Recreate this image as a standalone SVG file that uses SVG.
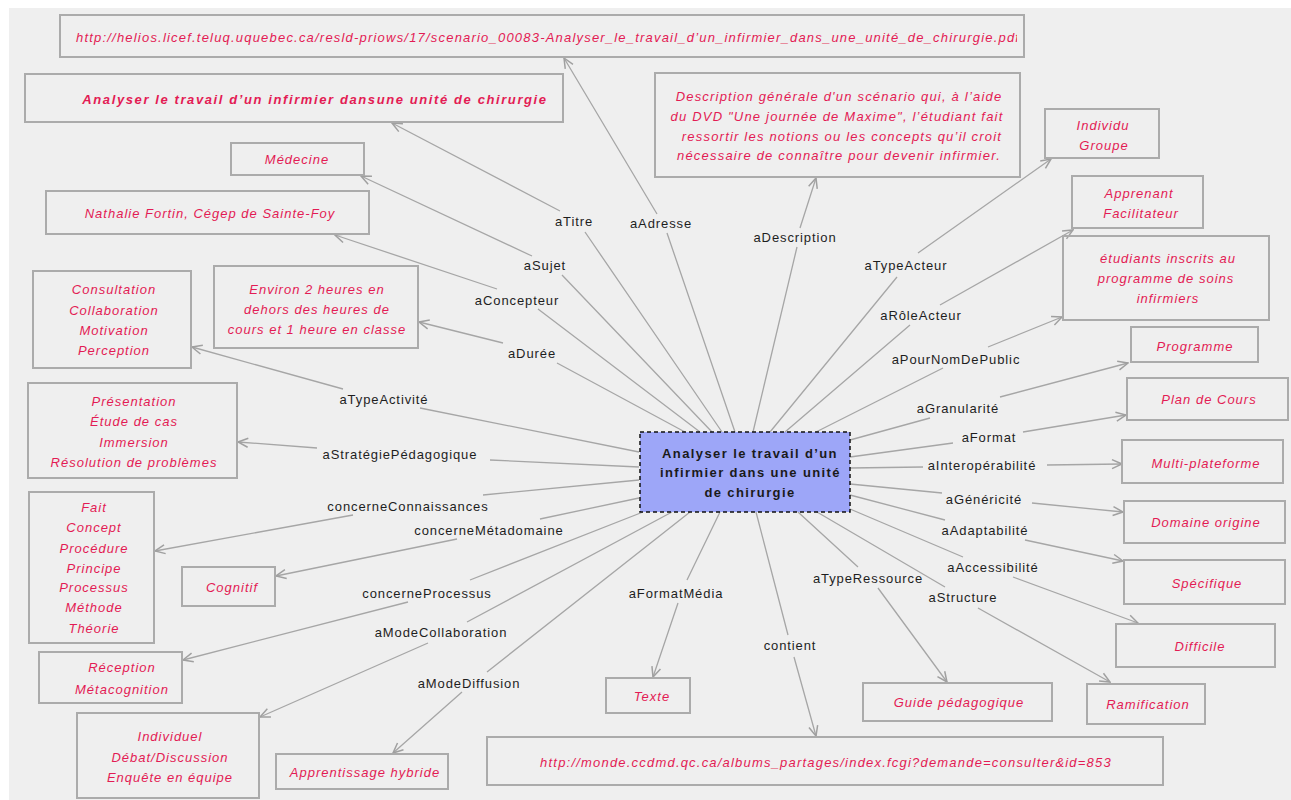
<svg xmlns="http://www.w3.org/2000/svg" width="1291" height="800" viewBox="0 0 1291 800">
<style>
.box{fill:none;stroke:#ababab;stroke-width:2}
.val{font-family:"Liberation Sans",Arial,sans-serif;font-style:italic;font-size:13px;fill:#e31b54;letter-spacing:1px;text-anchor:middle}
.lbl{font-family:"Liberation Sans",Arial,sans-serif;font-size:13px;fill:#1e1e1e;letter-spacing:0.9px;text-anchor:middle}
.edge{fill:none;stroke:#a6a6a6;stroke-width:1.3;marker-end:url(#arr)}
.ctr{font-family:"Liberation Sans",Arial,sans-serif;font-weight:bold;font-size:13px;fill:#1a1a1a;letter-spacing:1.4px;text-anchor:middle}
</style>
<defs>
<marker id="arr" markerWidth="12" markerHeight="12" viewBox="0 0 12 12" refX="11" refY="6" orient="auto" markerUnits="userSpaceOnUse">
<path d="M1,1.5 L11,6 L1,10.5" fill="none" stroke="#a0a0a0" stroke-width="1.5"/>
</marker>
<clipPath id="cTop"><rect x="61" y="16" width="956" height="40"/></clipPath>
<clipPath id="cEnv"><rect x="215" y="267" width="194" height="80"/></clipPath>
<clipPath id="cCtr"><rect x="641" y="433" width="202" height="78"/></clipPath>
</defs>
<rect x="0" y="0" width="1291" height="800" fill="#ffffff"/>
<rect x="9" y="8" width="1282" height="792" fill="#efefef"/>

<g id="connectors">
<path class="edge" d="M735,432 L667,233 M657,214 L564,58"/>
<path class="edge" d="M722,432 L585,232 M560,211 L392,123"/>
<path class="edge" d="M712,432 L562,275 M532,256 L361,176"/>
<path class="edge" d="M700,432 L538,309 M497,289 L335,235"/>
<path class="edge" d="M685,432 L557,363 M503,343 L419,322"/>
<path class="edge" d="M639,452 L420,408 M343,389 L192,347"/>
<path class="edge" d="M639,467 L490,460 M317,448 L238,442"/>
<path class="edge" d="M639,480 L483,495 M353,515 L155,551"/>
<path class="edge" d="M639,498 L540,519 M457,539 L276,576"/>
<path class="edge" d="M643,512 L470,580 M408,602 L183,660"/>
<path class="edge" d="M672,512 L467,622 M428,643 L260,717"/>
<path class="edge" d="M690,512 L487,672 M462,692 L393,753"/>
<path class="edge" d="M720,512 L687,580 M678,603 L653,677"/>
<path class="edge" d="M756,512 L788,635 M794,657 L816,736"/>
<path class="edge" d="M798,512 L858,567 M878,588 L947,682"/>
<path class="edge" d="M817,512 L945,587 M978,608 L1110,682"/>
<path class="edge" d="M850,509 L963,557 M1013,577 L1138,623"/>
<path class="edge" d="M850,495 L945,520 M1025,540 L1123,561"/>
<path class="edge" d="M850,484 L942,493 M1032,503 L1123,512"/>
<path class="edge" d="M850,468 L923,467 M1047,465 L1122,464"/>
<path class="edge" d="M850,457 L953,443 M1023,432 L1126,415"/>
<path class="edge" d="M850,440 L930,418 M1000,397 L1128,363"/>
<path class="edge" d="M816,432 L943,368 M988,347 L1062,317"/>
<path class="edge" d="M785,432 L910,325 M940,305 L1073,230"/>
<path class="edge" d="M770,432 L897,277 M918,253 L1051,159"/>
<path class="edge" d="M753,432 L797,247 M800,228 L816,178"/>
<text class="lbl" x="661" y="228">aAdresse</text>
<text class="lbl" x="574" y="226">aTitre</text>
<text class="lbl" x="545" y="270">aSujet</text>
<text class="lbl" x="517" y="305">aConcepteur</text>
<text class="lbl" x="532" y="358">aDurée</text>
<text class="lbl" x="384" y="404">aTypeActivité</text>
<text class="lbl" x="400" y="459">aStratégiePédagogique</text>
<text class="lbl" x="408" y="511">concerneConnaissances</text>
<text class="lbl" x="489" y="535">concerneMétadomaine</text>
<text class="lbl" x="427" y="598">concerneProcessus</text>
<text class="lbl" x="441" y="637">aModeCollaboration</text>
<text class="lbl" x="469" y="688">aModeDiffusion</text>
<text class="lbl" x="676" y="598">aFormatMédia</text>
<text class="lbl" x="790" y="650">contient</text>
<text class="lbl" x="868" y="583">aTypeRessource</text>
<text class="lbl" x="963" y="602">aStructure</text>
<text class="lbl" x="993" y="572">aAccessibilité</text>
<text class="lbl" x="985" y="535">aAdaptabilité</text>
<text class="lbl" x="984" y="504">aGénéricité</text>
<text class="lbl" x="982" y="470">aInteropérabilité</text>
<text class="lbl" x="989" y="442">aFormat</text>
<text class="lbl" x="958" y="413">aGranularité</text>
<text class="lbl" x="956" y="364">aPourNomDePublic</text>
<text class="lbl" x="921" y="320">aRôleActeur</text>
<text class="lbl" x="906" y="270">aTypeActeur</text>
<text class="lbl" x="795" y="242">aDescription</text>
</g>

<g id="center">
<rect x="640" y="432" width="210" height="80" fill="#9da6f8" stroke="#111" stroke-width="1.5" stroke-dasharray="4,3"/>
<g clip-path="url(#cCtr)">
<text class="ctr" x="750" y="458">Analyser le travail d’un</text>
<text class="ctr" x="660" y="477" style="text-anchor:start">infirmier dans une unité</text>
<text class="ctr" x="750" y="497">de chirurgie</text>
</g>
</g>

<g id="n-url-pdf">
<rect class="box" x="60" y="15" width="964" height="42"/>
<text class="val" x="76" y="42" clip-path="url(#cTop)" style="text-anchor:start;letter-spacing:1.2px">http://helios.licef.teluq.uquebec.ca/resld-priows/17/scenario_00083-Analyser_le_travail_d’un_infirmier_dans_une_unité_de_chirurgie.pdf</text>
</g>
<g id="n-titre">
<rect class="box" x="25" y="74" width="538" height="48"/>
<text class="val" x="315" y="104" style="font-weight:bold;letter-spacing:1.6px">Analyser le travail d’un infirmier dansune unité de chirurgie</text>
</g>
<g id="n-sujet">
<rect class="box" x="231" y="143" width="133" height="32"/>
<text class="val" x="297" y="164">Médecine</text>
</g>
<g id="n-concepteur">
<rect class="box" x="46" y="191" width="323" height="43"/>
<text class="val" x="210" y="218">Nathalie Fortin, Cégep de Sainte-Foy</text>
</g>
<g id="n-activite">
<rect class="box" x="33" y="271" width="158" height="97"/>
<text class="val" x="114" y="294">Consultation</text>
<text class="val" x="114" y="315">Collaboration</text>
<text class="val" x="114" y="335">Motivation</text>
<text class="val" x="114" y="355">Perception</text>
</g>
<g id="n-duree">
<rect class="box" x="214" y="266" width="204" height="82"/>
<g clip-path="url(#cEnv)">
<text class="val" x="317" y="294">Environ 2 heures en</text>
<text class="val" x="317" y="314">dehors des heures de</text>
<text class="val" x="317" y="334">cours et 1 heure en classe</text>
</g>
</g>
<g id="n-strategie">
<rect class="box" x="28" y="383" width="209" height="95"/>
<text class="val" x="134" y="406">Présentation</text>
<text class="val" x="134" y="426">Étude de cas</text>
<text class="val" x="134" y="447">Immersion</text>
<text class="val" x="134" y="467">Résolution de problèmes</text>
</g>
<g id="n-connaissances">
<rect class="box" x="29" y="492" width="125" height="151"/>
<text class="val" x="94" y="512">Fait</text>
<text class="val" x="94" y="532">Concept</text>
<text class="val" x="94" y="553">Procédure</text>
<text class="val" x="94" y="573">Principe</text>
<text class="val" x="94" y="592">Processus</text>
<text class="val" x="94" y="612">Méthode</text>
<text class="val" x="94" y="633">Théorie</text>
</g>
<g id="n-metadomaine">
<rect class="box" x="182" y="567" width="93" height="39"/>
<text class="val" x="232" y="592">Cognitif</text>
</g>
<g id="n-processus">
<rect class="box" x="39" y="652" width="143" height="51"/>
<text class="val" x="122" y="672">Réception</text>
<text class="val" x="122" y="694">Métacognition</text>
</g>
<g id="n-collaboration">
<rect class="box" x="77" y="713" width="182" height="85"/>
<text class="val" x="170" y="741">Individuel</text>
<text class="val" x="170" y="762">Débat/Discussion</text>
<text class="val" x="170" y="782">Enquête en équipe</text>
</g>
<g id="n-diffusion">
<rect class="box" x="276" y="754" width="172" height="35"/>
<text class="val" x="365" y="777">Apprentissage hybride</text>
</g>
<g id="n-media">
<rect class="box" x="606" y="678" width="84" height="35"/>
<text class="val" x="652" y="701">Texte</text>
</g>
<g id="n-contient">
<rect class="box" x="487" y="737" width="676" height="48"/>
<text class="val" x="826" y="767" style="letter-spacing:1.2px">http://monde.ccdmd.qc.ca/albums_partages/index.fcgi?demande=consulter&amp;id=853</text>
</g>
<g id="n-ressource">
<rect class="box" x="863" y="683" width="189" height="38"/>
<text class="val" x="959" y="707">Guide pédagogique</text>
</g>
<g id="n-structure">
<rect class="box" x="1087" y="684" width="118" height="40"/>
<text class="val" x="1148" y="709">Ramification</text>
</g>
<g id="n-accessibilite">
<rect class="box" x="1116" y="624" width="159" height="43"/>
<text class="val" x="1200" y="651">Difficile</text>
</g>
<g id="n-adaptabilite">
<rect class="box" x="1124" y="560" width="161" height="44"/>
<text class="val" x="1207" y="588">Spécifique</text>
</g>
<g id="n-genericite">
<rect class="box" x="1124" y="501" width="161" height="42"/>
<text class="val" x="1206" y="527">Domaine origine</text>
</g>
<g id="n-interop">
<rect class="box" x="1122" y="440" width="161" height="43"/>
<text class="val" x="1206" y="468">Multi-plateforme</text>
</g>
<g id="n-format">
<rect class="box" x="1127" y="378" width="161" height="42"/>
<text class="val" x="1209" y="404">Plan de Cours</text>
</g>
<g id="n-granularite">
<rect class="box" x="1131" y="327" width="127" height="35"/>
<text class="val" x="1195" y="351">Programme</text>
</g>
<g id="n-public">
<rect class="box" x="1063" y="236" width="206" height="84"/>
<text class="val" x="1168" y="263">étudiants inscrits au</text>
<text class="val" x="1166" y="283">programme de soins</text>
<text class="val" x="1168" y="303">infirmiers</text>
</g>
<g id="n-role">
<rect class="box" x="1072" y="176" width="131" height="52"/>
<text class="val" x="1139" y="198">Apprenant</text>
<text class="val" x="1141" y="218">Facilitateur</text>
</g>
<g id="n-typeacteur">
<rect class="box" x="1045" y="109" width="114" height="49"/>
<text class="val" x="1103" y="130">Individu</text>
<text class="val" x="1104" y="150">Groupe</text>
</g>
<g id="n-description">
<rect class="box" x="655" y="73" width="365" height="104"/>
<text class="val" x="839" y="101" style="letter-spacing:1.2px">Description générale d'un scénario qui, à l’aide</text>
<text class="val" x="837" y="121" style="letter-spacing:1.2px">du DVD "Une journée de Maxime", l’étudiant fait</text>
<text class="val" x="842" y="141" style="letter-spacing:1.2px">ressortir les notions ou les concepts qu’il croit</text>
<text class="val" x="839" y="160" style="letter-spacing:1.2px">nécessaire de connaître pour devenir infirmier.</text>
</g>
</svg>
